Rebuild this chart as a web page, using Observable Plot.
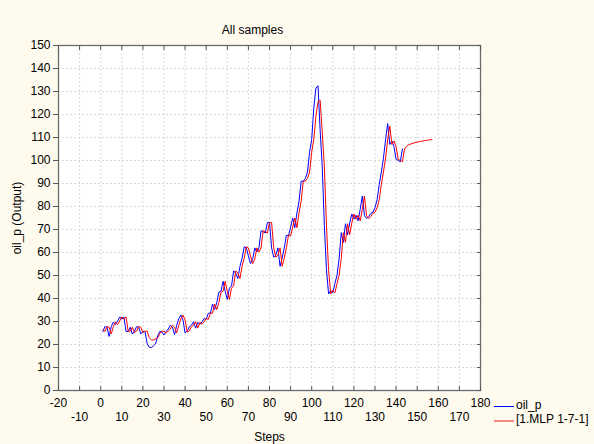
<!DOCTYPE html>
<html><head><meta charset="utf-8">
<script src="https://cdn.jsdelivr.net/npm/d3@7"></script>
<script src="https://cdn.jsdelivr.net/npm/@observablehq/plot@0.6"></script>
<style>
html,body{margin:0;padding:0;background:#fffaee;}
#wrap{position:relative;width:594px;height:444px;background:#fffaee;font-family:"Liberation Sans",Arial,sans-serif;overflow:hidden;}
.leg{position:absolute;font-size:12px;color:#000;white-space:nowrap;line-height:12px;}
.sw{position:absolute;}
</style></head><body>
<div id="wrap"></div>
<script>
// oil_p, steps 1..143
const oilP = [
  25.5, 27.8, 27.5, 23.5, 27.7, 29.8, 28.7, 30.2, 32.0, 31.0, 32.0, 25.7,
  25.6, 27.5, 24.5, 25.7, 27.8, 27.5, 24.6, 25.7, 25.6, 20.5, 18.8, 18.7,
  19.4, 20.3, 23.7, 25.7, 25.4, 24.1, 25.7, 26.7, 28.4, 27.5, 24.3, 28.3,
  31.2, 32.8, 30.6, 25.0, 25.9, 27.7, 28.4, 29.9, 27.1, 29.6, 28.8, 29.8,
  31.3, 30.9, 33.6, 33.6, 37.6, 35.2, 38.2, 42.7, 43.2, 47.5, 43.1, 39.6,
  44.5, 45.5, 52.0, 51.0, 48.7, 54.0, 57.5, 62.5, 62.0, 58.5, 55.2, 56.9,
  62.0, 60.2, 62.0, 69.5, 69.0, 68.5, 73.0, 73.0, 62.0, 58.0, 58.8, 62.0,
  54.0, 57.6, 62.0, 67.5, 67.2, 71.0, 75.0, 70.8, 77.2, 82.3, 91.0, 91.0,
  92.2, 95.0, 103.6, 109.1, 122.8, 131.5, 132.5, 113.2, 97.2, 71.6, 52.5, 42.0,
  43.5, 42.5, 46.5, 50.2, 57.3, 68.6, 64.4, 72.5, 67.7, 72.8, 76.7, 74.5,
  76.2, 73.8, 78.8, 84.5, 76.0, 74.8, 75.6, 77.0, 77.5, 79.5, 83.0, 89.5,
  95.0, 101.0, 109.0, 116.0, 107.0, 108.5, 106.0, 100.5, 100.0, 99.5, 105.0
];
// [1.MLP 1-7-1], steps 1..157
const mlp = [
  26.5, 25.7, 27.8, 27.5, 24.6, 27.7, 29.8, 28.7, 30.2, 32.0, 31.0, 32.0,
  25.8, 25.8, 27.5, 25.2, 25.8, 27.8, 27.5, 25.2, 25.8, 25.8, 23.0, 22.0,
  22.0, 22.4, 22.9, 24.7, 25.8, 25.7, 25.0, 25.8, 26.7, 28.4, 27.5, 25.1,
  28.3, 31.2, 32.8, 30.6, 25.5, 25.9, 27.7, 28.4, 29.9, 27.1, 29.6, 28.8,
  29.8, 31.3, 30.9, 33.6, 33.6, 37.6, 35.2, 38.2, 42.7, 43.2, 47.5, 43.1,
  39.6, 44.5, 45.5, 52.0, 51.0, 48.7, 54.0, 57.5, 62.5, 62.0, 58.5, 55.2,
  56.9, 62.0, 60.2, 62.0, 69.5, 69.0, 68.5, 73.0, 73.0, 62.0, 58.0, 58.8,
  62.0, 54.0, 57.6, 62.0, 67.5, 67.2, 71.0, 75.0, 70.8, 77.2, 82.3, 91.0,
  91.0, 92.2, 95.0, 103.6, 109.1, 119.2, 125.5, 126.2, 112.3, 97.2, 71.6, 52.5,
  42.0, 43.5, 42.5, 46.5, 50.2, 57.3, 68.6, 64.4, 72.5, 67.7, 72.8, 76.7,
  74.5, 76.2, 73.8, 78.8, 84.5, 76.0, 74.8, 75.6, 77.0, 77.5, 79.5, 83.0,
  89.5, 95.0, 101.0, 109.0, 115.0, 107.0, 108.5, 106.0, 100.5, 100.0, 99.5, 105.0,
  106.2, 106.8, 107.2, 107.5, 107.8, 108.0, 108.2, 108.4, 108.5, 108.7, 108.8, 109.0, 109.1
];
const xTicksUpper = [-20, 0, 20, 40, 60, 80, 100, 120, 140, 160, 180];
const xTicksLower = [-10, 10, 30, 50, 70, 90, 110, 130, 150, 170];
const yTicks = [0, 10, 20, 30, 40, 50, 60, 70, 80, 90, 100, 110, 120, 130, 140, 150];
const seriesNames = ["oil_p", "[1.MLP 1-7-1]"];
const seriesColors = ["#0000ff", "#ff0000"];
const titleText = "All samples";
const xLabel = "Steps";
const yLabel = "oil_p (Output)";

const oilRows = oilP.map((v, i) => ({step: i + 1, value: v}));
const mlpRows = mlp.map((v, i) => ({step: i + 1, value: v}));
const allXTicks = [...xTicksUpper, ...xTicksLower].sort((a, b) => a - b);
const plainFmt = d => String(d);

const chart = Plot.plot({
  width: 594, height: 444,
  marginLeft: 58, marginRight: 114, marginTop: 45, marginBottom: 54,
  x: {domain: [-20, 180]},
  y: {domain: [0, 150]},
  style: {fontFamily: '"Liberation Sans", Arial, sans-serif', fontSize: "12px", background: "transparent", color: "#000", overflow: "visible"},
  marks: [
    Plot.frame({fill: "#ffffff", stroke: null}),
    Plot.gridX(allXTicks, {stroke: "#dadada", strokeOpacity: 1, strokeDasharray: "2,2"}),
    Plot.gridY(yTicks, {stroke: "#dadada", strokeOpacity: 1, strokeDasharray: "2,2"}),
    Plot.line(oilRows, {x: "step", y: "value", stroke: seriesColors[0], strokeWidth: 1}),
    Plot.line(mlpRows, {x: "step", y: "value", stroke: seriesColors[1], strokeWidth: 1}),
    Plot.frame({stroke: "#6a6a6a", strokeWidth: 1.3}),
    Plot.axisY(yTicks, {anchor: "left", tickSize: 5, tickPadding: 3, label: null, stroke: "#555", tickFormat: plainFmt}),
    Plot.axisY(yTicks, {anchor: "right", tickSize: 4, dx: -4, tickFormat: () => "", label: null, stroke: "#555"}),
    Plot.axisX(allXTicks, {anchor: "bottom", tickSize: 4, dy: -4, tickFormat: () => "", label: null, stroke: "#555"}),
    Plot.axisX(allXTicks, {anchor: "top", tickSize: 4, dy: 4, tickFormat: () => "", label: null, stroke: "#555"}),
    Plot.axisX(xTicksUpper, {anchor: "bottom", tickSize: 0, tickPadding: 8, label: null, tickFormat: plainFmt}),
    Plot.axisX(xTicksLower, {anchor: "bottom", tickSize: 0, tickPadding: 22, label: null, tickFormat: plainFmt}),
    Plot.text([titleText], {frameAnchor: "top", dx: -17, dy: -15, lineAnchor: "middle", fill: "#000"}),
    Plot.text([xLabel], {frameAnchor: "bottom", dy: 47, lineAnchor: "middle", fill: "#000"}),
    Plot.text([yLabel], {frameAnchor: "left", dx: -41, rotate: -90, lineAnchor: "middle", textAnchor: "middle", fill: "#000"})
  ]
});

const wrap = document.getElementById("wrap");
wrap.appendChild(chart);

// legend overlay
const legendRows = [
  {name: seriesNames[0], color: seriesColors[0], lineTop: 406, lineH: 1, textTop: 399},
  {name: seriesNames[1], color: "#f28a84", lineTop: 420, lineH: 2, textTop: 413}
];
legendRows.forEach(r => {
  const sw = document.createElement("div");
  sw.className = "sw";
  sw.style.cssText = `left:494px;top:${r.lineTop}px;width:20px;height:${r.lineH}px;background:${r.color};`;
  wrap.appendChild(sw);
  const t = document.createElement("div");
  t.className = "leg";
  t.style.left = "516px";
  t.style.top = r.textTop + "px";
  t.textContent = r.name;
  wrap.appendChild(t);
});
</script>
</body></html>
